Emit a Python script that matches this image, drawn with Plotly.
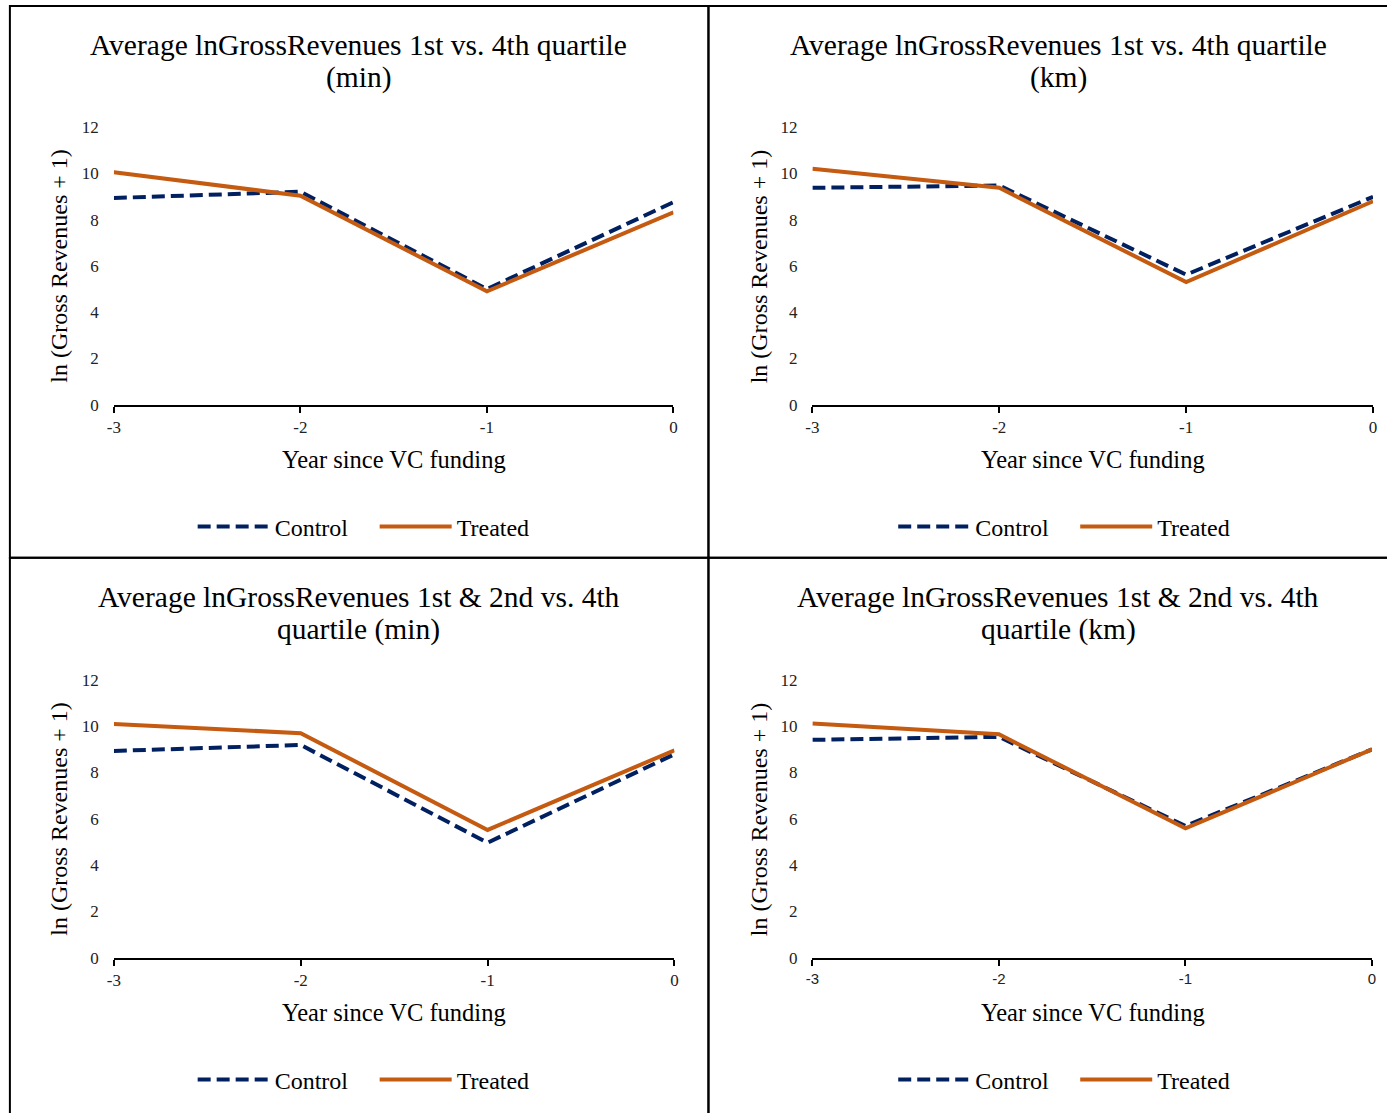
import plotly.graph_objects as go

years = [-3, -2, -1, 0]
y_ticks = [0, 2, 4, 6, 8, 10, 12]
x_tick_labels = ["-3", "-2", "-1", "0"]

title_lines = [
    ("Average lnGrossRevenues 1st vs. 4th quartile", "(min)"),
    ("Average lnGrossRevenues 1st vs. 4th quartile", "(km)"),
    ("Average lnGrossRevenues 1st &amp; 2nd vs. 4th", "quartile (min)"),
    ("Average lnGrossRevenues 1st &amp; 2nd vs. 4th", "quartile (km)"),
]

control_q1_min = [8.93, 9.20, 5.00, 8.75]
treated_q1_min = [10.04, 9.03, 4.90, 8.31]
control_q1_km = [9.37, 9.47, 5.62, 8.98]
treated_q1_km = [10.19, 9.37, 5.30, 8.79]
control_q12_min = [8.93, 9.19, 4.97, 8.79]
treated_q12_min = [10.09, 9.70, 5.52, 8.96]
control_q12_km = [9.41, 9.54, 5.69, 9.00]
treated_q12_km = [10.12, 9.65, 5.59, 9.00]

controls = [control_q1_min, control_q1_km, control_q12_min, control_q12_km]
treateds = [treated_q1_min, treated_q1_km, treated_q12_min, treated_q12_km]

W, H = 1387, 1113
NAVY = "#002060"
ORANGE = "#C55A11"
SERIF = "Liberation Serif, Times New Roman, serif"

# target pixel layout (left, top, right, bottom) of panels and plot areas
panels = [(9, 6, 708, 558), (708, 6, 1392, 558), (9, 558, 708, 1120), (708, 558, 1392, 1120)]
plots = [(113, 127, 673, 405), (812, 127, 1373, 405), (113, 680, 674, 958), (812, 680, 1372, 958)]
title_cx = [358, 1058, 358, 1058]
xtitle_cx = [393, 1093, 393, 1093]
ytitle_cx = [58, 758, 58, 758]
legend_cx = [374, 1075, 374, 1075]

# the photographed page is slightly rescaled; compensate
SX, CX = 0.9927, 6.1
SY, CY = 0.983, 9.1


def px_x(v):
    return ((v - CX) / SX) / W


def px_y(v):
    return 1 - ((v - CY) / SY) / H


fig = go.Figure()
annotations = []
shapes = []

for i in range(4):
    n = "" if i == 0 else str(i + 1)
    xa = "x" + n
    ya = "y" + n
    lg = "legend" + n
    fig.add_trace(go.Scatter(
        x=years, y=controls[i], mode="lines", name="Control",
        line=dict(color=NAVY, width=4, dash="13px,6px"),
        xaxis=xa, yaxis=ya, legend=lg, hoverinfo="skip"))
    fig.add_trace(go.Scatter(
        x=years, y=treateds[i], mode="lines", name="Treated",
        line=dict(color=ORANGE, width=4),
        xaxis=xa, yaxis=ya, legend=lg, hoverinfo="skip"))

    l, t, r, b = plots[i]
    tickfont = dict(family=SERIF, size=17, color="#222")
    if i == 3:
        tickfont = dict(family="Liberation Sans, Arial, sans-serif", size=15, color="#222")
    fig.layout["xaxis" + n] = dict(
        domain=[max(0, px_x(l)), min(1, px_x(r))], range=[-3, 0], anchor=ya,
        tickvals=years, ticktext=x_tick_labels,
        showline=True, linecolor="black", linewidth=2,
        ticks="outside", ticklen=6, tickwidth=1.5, tickcolor="black",
        showgrid=False, zeroline=False, tickfont=tickfont, ticklabelstandoff=0,
        fixedrange=True)
    fig.layout["yaxis" + n] = dict(
        domain=[max(0, px_y(b)), min(1, px_y(t))], range=[0, 12], anchor=xa,
        tickvals=y_ticks, showline=False, ticks="", showgrid=False,
        zeroline=False, tickfont=dict(family=SERIF, size=17, color="#222"),
        ticklabelstandoff=14, fixedrange=True)

    pl, pt, pr, pb = panels[i]
    # title (two lines)
    for k, line_text in enumerate(title_lines[i]):
        annotations.append(dict(
            text=line_text, xref="paper", yref="paper",
            x=px_x(title_cx[i]), y=px_y(pt + 39 + 33 * k),
            xanchor="center", yanchor="middle", showarrow=False,
            font=dict(family=SERIF, size=29.5, color="black")))
    # axis titles
    annotations.append(dict(
        text="Year since VC funding", xref="paper", yref="paper",
        x=px_x(xtitle_cx[i]), y=px_y(b + 55),
        xanchor="center", yanchor="middle", showarrow=False,
        font=dict(family=SERIF, size=24.5, color="black")))
    annotations.append(dict(
        text="ln (Gross Revenues + 1)", xref="paper", yref="paper",
        x=px_x(ytitle_cx[i]), y=px_y((t + b) / 2), textangle=-90,
        xanchor="center", yanchor="middle", showarrow=False,
        font=dict(family=SERIF, size=24, color="black")))
    # legend
    fig.layout[lg] = dict(
        orientation="h", x=px_x(legend_cx[i]), xanchor="center",
        y=px_y(b + 122), yanchor="middle",
        font=dict(family=SERIF, size=24, color="black"),
        itemwidth=72, entrywidth=95, bgcolor="rgba(0,0,0,0)",
        itemclick=False, itemdoubleclick=False)
    # panel border
    shapes.append(dict(type="rect", xref="paper", yref="paper",
                       x0=px_x(pl), x1=px_x(pr), y0=px_y(pb), y1=px_y(pt),
                       line=dict(color="black", width=2), layer="below"))

fig.update_layout(
    width=W, height=H, margin=dict(l=0, r=0, t=0, b=0),
    paper_bgcolor="white", plot_bgcolor="white",
    annotations=annotations, shapes=shapes, showlegend=True)

fig.write_html(
    "out.html",
    config={"displayModeBar": False, "responsive": False},
    post_script="document.body.style.margin='0';document.body.style.padding='0';"
                "document.body.style.overflow='hidden';"
                "document.documentElement.style.overflow='hidden';")
